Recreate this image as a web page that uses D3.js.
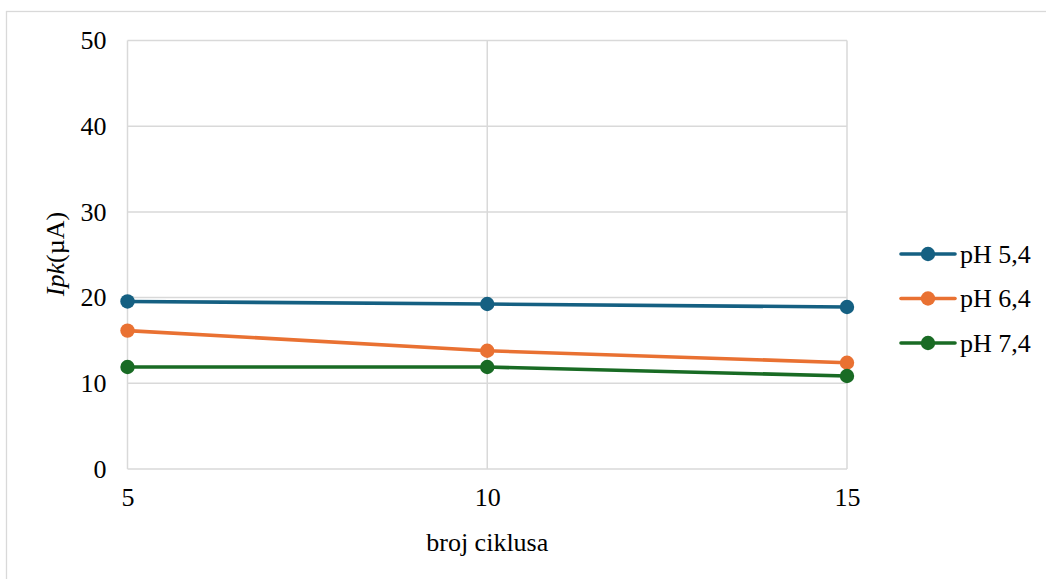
<!DOCTYPE html>
<html><head><meta charset="utf-8">
<script src="https://cdn.jsdelivr.net/npm/d3@7"></script>
</head>
<body style="margin:0;background:#fff">
<svg id="chart" width="1046" height="579" style="display:block;background:#fff"></svg>
<script>
const cycles = [5, 10, 15];
const seriesNames = ["pH 5,4", "pH 6,4", "pH 7,4"];
const ph54 = [19.55, 19.25, 18.9];
const ph64 = [16.15, 13.8, 12.4];
const ph74 = [11.9, 11.9, 10.85];
const yTicks = [0, 10, 20, 30, 40, 50];
const colors = ["#156082", "#E97132", "#196B24"];

const series = [ph54, ph64, ph74];
const svg = d3.select("#chart");
const m = {left:127.5, right:847, top:40.5, bottom:469};
const FF = "Liberation Serif";
const FS = "26px";
function font(sel){ return sel.style("font-family",FF).style("font-size",FS).attr("fill","#000"); }

// outer chart border
svg.append("rect").attr("x",6.5).attr("y",11.5).attr("width",1050).attr("height",600)
  .attr("fill","#fff").attr("stroke","#d9d9d9").attr("stroke-width",1.3);

const x = d3.scaleLinear().domain([5,15]).range([m.left,m.right]);
const y = d3.scaleLinear().domain([0,50]).range([m.bottom,m.top]);

// horizontal gridlines
svg.append("g").selectAll("line").data(yTicks).join("line")
  .attr("x1",m.left).attr("x2",m.right)
  .attr("y1",d=>y(d)).attr("y2",d=>y(d))
  .attr("stroke","#d9d9d9").attr("stroke-width",1.5);
// vertical gridlines
svg.append("g").selectAll("line").data(cycles).join("line")
  .attr("x1",d=>x(d)).attr("x2",d=>x(d))
  .attr("y1",m.top).attr("y2",m.bottom)
  .attr("stroke","#d9d9d9").attr("stroke-width",1.5);

// y axis labels
const yAxis = d3.axisLeft(y).tickValues(yTicks).tickSize(0).tickPadding(21).tickFormat(d3.format("d"));
const gy = svg.append("g").attr("transform",`translate(${m.left},0)`).call(yAxis)
  .attr("font-family",FF).attr("font-size",26);
gy.select(".domain").remove();
font(gy.selectAll("text"));

// x axis labels
const xAxis = d3.axisBottom(x).tickValues(cycles).tickSize(0).tickPadding(19).tickFormat(d3.format("d"));
const gx = svg.append("g").attr("transform",`translate(0,${m.bottom})`).call(xAxis)
  .attr("font-family",FF).attr("font-size",26);
gx.select(".domain").remove();
font(gx.selectAll("text"));

// axis titles
font(svg.append("text").attr("x",(m.left+m.right)/2).attr("y",551)
  .attr("text-anchor","middle")).text("broj ciklusa");
const yt = font(svg.append("text").attr("transform","translate(64,254) rotate(-90)")
  .attr("text-anchor","middle"));
yt.append("tspan").style("font-style","italic").style("font-family",FF).text("Ipk");
yt.append("tspan").style("font-family",FF).text("(µA)");

// lines
const line = d3.line().x((d,i)=>x(cycles[i])).y(d=>y(d));
series.forEach((s,k)=>{
  svg.append("path").datum(s).attr("d",line).attr("fill","none")
    .attr("stroke",colors[k]).attr("stroke-width",3.6).attr("stroke-linejoin","round");
  svg.append("g").selectAll("circle").data(s).join("circle")
    .attr("cx",(d,i)=>x(cycles[i])).attr("cy",d=>y(d)).attr("r",7.2)
    .attr("fill",colors[k]);
});

// legend
const legY = [254, 298.5, 343];
const lg = svg.append("g");
seriesNames.forEach((n,k)=>{
  lg.append("line").attr("x1",901).attr("x2",955).attr("y1",legY[k]).attr("y2",legY[k])
    .attr("stroke",colors[k]).attr("stroke-width",3.6).attr("stroke-linecap","round");
  lg.append("circle").attr("cx",928).attr("cy",legY[k]).attr("r",7.2).attr("fill",colors[k]);
  font(lg.append("text").attr("x",960).attr("y",legY[k]+8.5)).text(n);
});
</script>
</body></html>
